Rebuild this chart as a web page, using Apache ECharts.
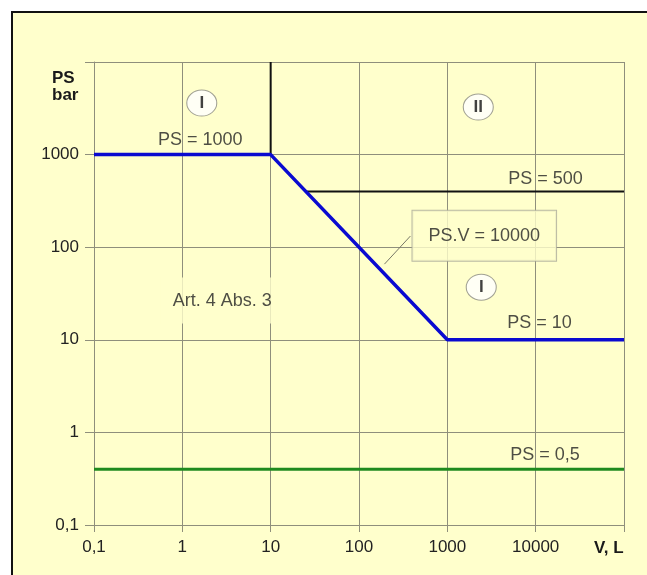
<!DOCTYPE html>
<html>
<head>
<meta charset="utf-8">
<script src="https://cdn.jsdelivr.net/npm/echarts@6/dist/echarts.min.js"></script>
<style>
  html, body { margin: 0; padding: 0; background: #ffffff; overflow: hidden; }
  #frame { position: absolute; left: 11px; top: 11px; width: 700px; height: 600px;
           background: #ffffcc; border-left: 2px solid #111; border-top: 2px solid #111; }
  #chart { position: absolute; left: 0; top: 0; width: 647px; height: 575px; }
</style>
</head>
<body>
<div id="frame"></div>
<div id="chart"></div>
<script>
// ---- data ----
const xTickLabels = { '0.1': '0,1', '1': '1', '10': '10', '100': '100', '1000': '1000', '10000': '10000', '100000': '' };
const yTickLabels = { '0.1': '0,1', '1': '1', '10': '10', '100': '100', '1000': '1000', '10000': '' };

const blueV  = [0.1, 10, 1000, 100000];
const bluePS = [1000, 1000, 10, 10];

const blackVertV  = [10, 10];
const blackVertPS = [1000, 10000];

const black500V  = [25, 100000];
const black500PS = [400, 400];

const greenV  = [0.1, 100000];
const greenPS = [0.4, 0.4];

const circleLabels = ['I', 'II', 'I'];
const circleV  = [1.66, 2240, 2420];
const circlePS = [3600, 3260, 37];

const textLabels = ['PS = 1000', 'PS = 500', 'PS = 10', 'PS = 0,5'];
const textV  = [0.53, 4890, 4770, 5150];
const textPS = [1435, 543, 15.1, 0.569];

const artLabel = 'Art. 4 Abs. 3';
const artV = 2.83, artPS = 26.5;

const boxLabel = 'PS.V = 10000';
const boxV = 2620, boxPS = 133;
const leaderV  = [382, 194];
const leaderPS = [132, 65.6];

// ---- helpers ----
function zip(a, b) { return a.map((v, i) => [v, b[i]]); }
function lbl(map, v) {
  for (const k in map) { if (Math.abs(Math.log10(v) - Math.log10(parseFloat(k))) < 1e-6) return map[k]; }
  return '';
}

const FONT = 'Liberation Sans, Arial, sans-serif';
const gridColor = '#8f8f7c';
const textColor = '#222222';

const chart = echarts.init(document.getElementById('chart'), null, { renderer: 'canvas' });

const lineBase = { type: 'line', showSymbol: false, symbol: 'none', silent: true, animation: false };

chart.setOption({
  backgroundColor: 'transparent',
  animation: false,
  grid: { left: 94, top: 62, right: 23, bottom: 50, containLabel: false },
  xAxis: {
    type: 'log', logBase: 10, min: 0.1, max: 100000,
    axisLine: { show: true, lineStyle: { color: gridColor, width: 1 } },
    axisTick: { show: true, length: 7, lineStyle: { color: gridColor } },
    splitLine: { show: true, lineStyle: { color: gridColor, width: 1 } },
    axisLabel: { color: textColor, fontFamily: FONT, fontSize: 17, margin: 14,
                 formatter: v => lbl(xTickLabels, v) }
  },
  yAxis: {
    type: 'log', logBase: 10, min: 0.1, max: 10000,
    axisLine: { show: true, lineStyle: { color: gridColor, width: 1 } },
    axisTick: { show: true, length: 9, lineStyle: { color: gridColor } },
    splitLine: { show: true, lineStyle: { color: gridColor, width: 1 } },
    axisLabel: { color: textColor, fontFamily: FONT, fontSize: 17, margin: 15,
                 formatter: v => lbl(yTickLabels, v) }
  },
  graphic: [
    { type: 'text', left: 52, top: 70, style: { text: 'PS', font: 'bold 17px ' + FONT, fill: '#1a1a1a' } },
    { type: 'text', left: 52, top: 87, style: { text: 'bar', font: 'bold 17px ' + FONT, fill: '#1a1a1a' } },
    { type: 'text', left: 594, top: 540, style: { text: 'V, L', font: 'bold 17px ' + FONT, fill: '#1a1a1a' } }
  ],
  series: [
    Object.assign({}, lineBase, { data: zip(leaderV, leaderPS), lineStyle: { color: '#777766', width: 1 }, z: 2 }),
    Object.assign({}, lineBase, { data: zip(blackVertV, blackVertPS), lineStyle: { color: '#111111', width: 2 }, z: 3 }),
    Object.assign({}, lineBase, { data: zip(black500V, black500PS), lineStyle: { color: '#111111', width: 2 }, z: 3 }),
    Object.assign({}, lineBase, { data: zip(greenV, greenPS), lineStyle: { color: '#1f8a1f', width: 3 }, z: 3 }),
    Object.assign({}, lineBase, { data: zip(blueV, bluePS), lineStyle: { color: '#0a0ad0', width: 3.5 }, z: 4 }),
    {
      type: 'scatter', silent: true, animation: false, z: 5,
      symbol: 'circle', symbolSize: [30, 26],
      itemStyle: { color: '#ffffff', borderColor: '#8a8a80', borderWidth: 1 },
      label: { show: true, position: 'inside', color: '#111', fontFamily: FONT, fontSize: 17, fontWeight: 'bold',
               formatter: p => p.name },
      data: circleLabels.map((n, i) => ({ name: n, value: [circleV[i], circlePS[i]] }))
    },
    {
      type: 'scatter', silent: true, animation: false, z: 5,
      symbolSize: 0,
      label: { show: true, position: 'right', distance: 0, color: textColor, fontFamily: FONT, fontSize: 18,
               formatter: p => p.name },
      data: textLabels.map((n, i) => ({ name: n, value: [textV[i], textPS[i]] }))
    },
    {
      type: 'scatter', silent: true, animation: false, z: 5,
      symbolSize: 0,
      label: { show: true, position: 'inside', color: textColor, fontFamily: FONT, fontSize: 18,
               backgroundColor: '#ffffcc', padding: [14, 12], formatter: p => p.name },
      data: [{ name: artLabel, value: [artV, artPS] }]
    },
    {
      type: 'scatter', silent: true, animation: false, z: 6,
      symbolSize: 0,
      label: { show: true, position: 'inside', color: textColor, fontFamily: FONT, fontSize: 18,
               backgroundColor: '#ffffcc', borderColor: '#a9a999', borderWidth: 1, padding: [16, 16],
               formatter: p => p.name },
      data: [{ name: boxLabel, value: [boxV, boxPS] }]
    }
  ]
});
</script>
</body>
</html>
